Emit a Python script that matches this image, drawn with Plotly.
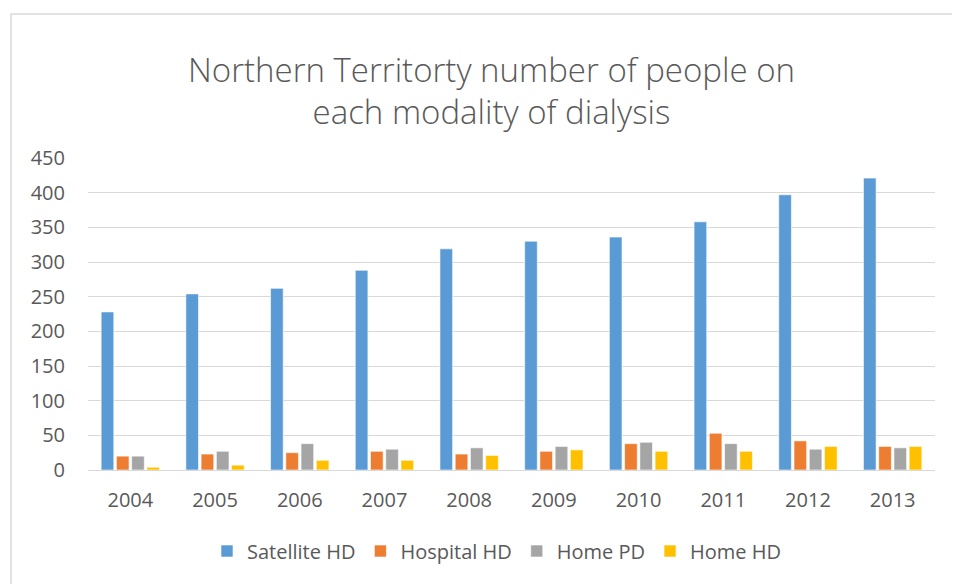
import plotly.graph_objects as go

years = ["2004", "2005", "2006", "2007", "2008", "2009", "2010", "2011", "2012", "2013"]
satellite_hd = [228, 254, 262, 288, 319, 330, 336, 358, 397, 421]
hospital_hd = [20, 23, 25, 27, 23, 27, 38, 53, 42, 34]
home_pd = [20, 27, 38, 30, 32, 34, 40, 38, 30, 32]
home_hd = [4, 7, 14, 14, 21, 29, 27, 27, 34, 34]

series = [
    ("Satellite HD", satellite_hd, "#5B9BD5"),
    ("Hospital HD", hospital_hd, "#ED7D31"),
    ("Home PD", home_pd, "#A5A5A5"),
    ("Home HD", home_hd, "#FFC000"),
]

fig = go.Figure()
for name, vals, color in series:
    fig.add_trace(go.Bar(
        x=years, y=vals, name=name,
        marker=dict(color=color, line=dict(color="rgba(255,255,255,0.6)", width=1)),
    ))

font_family = "Open Sans, Liberation Sans, sans-serif"
text_color = "#595959"

W, H = 952, 576
L, R, T, B = 80, 25, 150, 114
pw, ph = W - L - R, H - T - B

fig.update_layout(
    width=W, height=H,
    paper_bgcolor="white", plot_bgcolor="white",
    margin=dict(l=L, r=R, t=T, b=B, pad=0),
    barmode="group", bargap=0.28, bargroupgap=0.17,
    title=dict(
        text="Northern Territorty number of people on<br>each modality of dialysis",
        x=483.5 / W, xref="container", xanchor="center",
        y=1 - 73.5 / H, yref="container", yanchor="middle",
        font=dict(family=font_family, size=33, color=text_color, weight=300),
    ),
    font=dict(family=font_family, size=20, color=text_color),
    xaxis=dict(
        showgrid=False, showline=True, linecolor="#d9d9d9", linewidth=1,
        ticks="", tickfont=dict(size=20, color=text_color), ticklabelstandoff=12,
    ),
    yaxis=dict(
        range=[0, 450], dtick=50, showgrid=True, gridcolor="#d9d9d9", gridwidth=1,
        zeroline=False, showline=False, ticks="",
        tickfont=dict(size=20, color=text_color), ticklabelstandoff=22,
    ),
    legend=dict(
        orientation="h", x=(488.5 - L) / pw, xanchor="center",
        y=(H - B - 543) / ph, yanchor="middle",
        font=dict(size=20, color=text_color), traceorder="normal",
    ),
    shapes=[dict(
        type="rect", xref="paper", yref="paper",
        x0=(3 - L) / pw, x1=(990 - L) / pw,
        y0=(H - B - 700) / ph, y1=(H - B - 6) / ph,
        line=dict(color="#d9d9d9", width=1.5), fillcolor="rgba(0,0,0,0)", layer="below",
    )],
)

fig.write_html("out.html")
